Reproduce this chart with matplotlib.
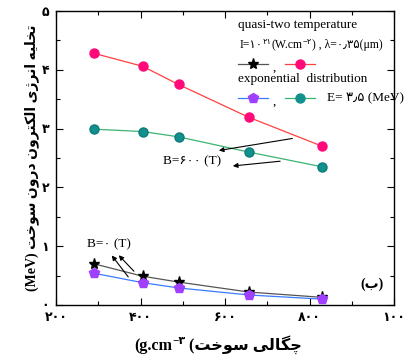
import numpy as np
import matplotlib
matplotlib.use('Agg')
import matplotlib.pyplot as plt
from matplotlib.lines import Line2D
from matplotlib.ticker import FixedLocator, MultipleLocator

plt.rcParams['font.family'] = ['Liberation Serif', 'DejaVu Sans']

# data
density = [290, 405, 490, 657, 830]
quasi_b600 = [4.28, 4.06, 3.75, 3.19, 2.70]
expo_b600 = [2.99, 2.95, 2.86, 2.60, 2.35]
quasi_b0 = [0.70, 0.49, 0.39, 0.22, 0.13]
expo_b0 = [0.54, 0.38, 0.29, 0.17, 0.10]
xticks = [200, 400, 600, 800, 1000]
xlabels = ['۲۰۰', '۴۰۰', '۶۰۰', '۸۰۰', '۱۰۰']
yticks = [0, 1, 2, 3, 4, 5]
ylabels = ['۰', '۱', '۲', '۳', '۴', '۵']

# minimal arabic/persian shaping (matplotlib has no RTL layout)
FORMS = {'ا': ('\uFE8D', '\uFE8E', None, None), 'ب': ('\uFE8F', '\uFE90', '\uFE91', '\uFE92'),
         'ت': ('\uFE95', '\uFE96', '\uFE97', '\uFE98'), 'خ': ('\uFEA5', '\uFEA6', '\uFEA7', '\uFEA8'),
         'د': ('\uFEA9', '\uFEAA', None, None), 'ر': ('\uFEAD', '\uFEAE', None, None),
         'س': ('\uFEB1', '\uFEB2', '\uFEB3', '\uFEB4'), 'ل': ('\uFEDD', '\uFEDE', '\uFEDF', '\uFEE0'),
         'ن': ('\uFEE5', '\uFEE6', '\uFEE7', '\uFEE8'), 'ه': ('\uFEE9', '\uFEEA', '\uFEEB', '\uFEEC'),
         'و': ('\uFEED', '\uFEEE', None, None), 'ژ': ('\uFB8A', '\uFB8B', None, None),
         'چ': ('\uFB7A', '\uFB7B', '\uFB7C', '\uFB7D'), 'ک': ('\uFB8E', '\uFB8F', '\uFB90', '\uFB91'),
         'گ': ('\uFB92', '\uFB93', '\uFB94', '\uFB95'), 'ی': ('\uFBFC', '\uFBFD', '\uFBFE', '\uFBFF')}
def rtl(s):
    out = []
    for i, c in enumerate(s):
        if c not in FORMS:
            out.append(c); continue
        p = s[i-1] if i > 0 else ''
        n = s[i+1] if i+1 < len(s) else ''
        jp = p in FORMS and FORMS[p][2] is not None
        jn = FORMS[c][2] is not None and n in FORMS
        iso, fin, ini, med = FORMS[c]
        out.append(med if jp and jn else fin if jp else ini if jn else iso)
    return ''.join(out)[::-1]

W, H = 407, 356
fig = plt.figure(figsize=(W/100, H/100), dpi=100)
ax = fig.add_axes([56/W, 51/H, 338/W, 294/H])
rend = fig.canvas.get_renderer()

def chain(x, y, pieces, center=False):
    # pieces: (text, size, rise_px, weight); x,y in pixels from top-left
    arts = []
    for s, fs, rise, wt in pieces:
        arts.append(fig.text(0, 0, s, fontsize=fs, fontweight=wt, va='baseline', ha='left'))
    ws = [a.get_window_extent(rend).width for a in arts]
    if center:
        x = x - sum(ws)/2
    for a, w, (s, fs, rise, wt) in zip(arts, ws, pieces):
        a.set_position((x/W, (H-y+rise)/H))
        x += w

ax.plot(density, quasi_b600, color='#ff4040', lw=0.9, marker='o', ms=6.5, mfc='#ff0a78', mec='#ff0a78')
ax.plot(density, expo_b600, color='#3cb371', lw=0.9, marker='o', ms=6.5, mfc='#12908e', mec='#0d7a78')
ax.plot(density, quasi_b0, color='#555555', lw=0.9, marker='*', ms=8, mfc='black', mec='black')
ax.plot(density, expo_b0, color='#3a7bff', lw=0.9, marker='p', ms=7, mfc='#a040ff', mec='#a040ff')

ax.set_xlim(200, 1000)
ax.set_ylim(0, 5)
ax.xaxis.set_major_locator(FixedLocator(xticks))
ax.xaxis.set_minor_locator(MultipleLocator(100))
ax.yaxis.set_major_locator(FixedLocator(yticks))
ax.yaxis.set_minor_locator(MultipleLocator(0.5))
ax.set_xticklabels(xlabels, fontsize=9, fontweight='bold')
ax.set_yticklabels(ylabels, fontsize=9, fontweight='bold')
ax.tick_params(which='both', direction='in', top=True, right=True, width=0.8)
ax.tick_params(which='major', length=5, pad=5)
ax.tick_params(which='minor', length=3)
for sp in ax.spines.values():
    sp.set_linewidth(1.0)

ax.set_ylabel('(MeV) ' + rtl('تخلیه انرژی الکترون درون سوخت'), fontsize=10, fontweight='bold', labelpad=2)
chain(218, 350, [('(g.cm', 11.5, 0, 'bold'), ('−۳', 8, 6, 'bold'), (' (' + rtl('چگالی سوخت'), 11.5, 0, 'bold')], center=True)

ax.text(0.97, 0.07, '(' + rtl('ب') + ')', transform=ax.transAxes, ha='right', va='center', fontsize=10, fontweight='bold')

# legend block
tx = (238-56)/338
def ya(py):
    return (305-py)/294
ax.text(tx, ya(25), 'quasi-two temperature', transform=ax.transAxes, fontsize=9.5, va='center')
chain(240, 48, [('I=۱۰', 8.5, 0, 'normal'), ('۲۱', 6, 4, 'normal'), ('(W.cm', 8.5, 0, 'normal'),
                ('−۲', 6, 4, 'normal'), (') , λ=۰٫۳۵(μm)', 8.5, 0, 'normal')])
ax.text(tx, ya(79), 'exponential  distribution', transform=ax.transAxes, fontsize=9.5, va='center')
keys = [(64, '#555555', '*', 'black', 8, 0), (64, '#ff4040', 'o', '#ff0a78', 6.5, 1),
        (98, '#3a7bff', 'p', '#a040ff', 7, 0), (98, '#3cb371', 'o', '#12908e', 6.5, 1)]
for py, lc, mk, mc, ms, k in keys:
    x0 = 238 + k*47
    ax.add_line(Line2D([(x0-56)/338, (x0+30-56)/338], [ya(py), ya(py)], transform=ax.transAxes, color=lc, lw=0.9))
    ax.add_line(Line2D([(x0+15-56)/338], [ya(py)], transform=ax.transAxes, marker=mk, ms=ms, mfc=mc, mec=mc, lw=0))
    if k == 0:
        ax.text((273-56)/338, ya(py+4), ',', transform=ax.transAxes, fontsize=9.5, va='center')
ax.text((327-56)/338, ya(98), 'E= ۳٫۵ (MeV)', transform=ax.transAxes, fontsize=9.5, va='center')

arw = dict(arrowstyle='-|>', color='black', lw=0.8, mutation_scale=7)
ax.text(522, 2.45, 'B=۶۰۰ (T)', fontsize=9.5, ha='center', va='center')
ax.annotate('', xy=(579, 2.62), xytext=(766, 2.84), arrowprops=arw)
ax.annotate('', xy=(612, 2.36), xytext=(737, 2.45), arrowprops=arw)
ax.text(325, 1.04, 'B=۰ (T)', fontsize=9.5, ha='center', va='center')
ax.annotate('', xy=(328, 0.88), xytext=(375, 0.44), arrowprops=arw)
ax.annotate('', xy=(344, 0.88), xytext=(389, 0.54), arrowprops=arw)

fig.savefig('out.png', dpi=100)
